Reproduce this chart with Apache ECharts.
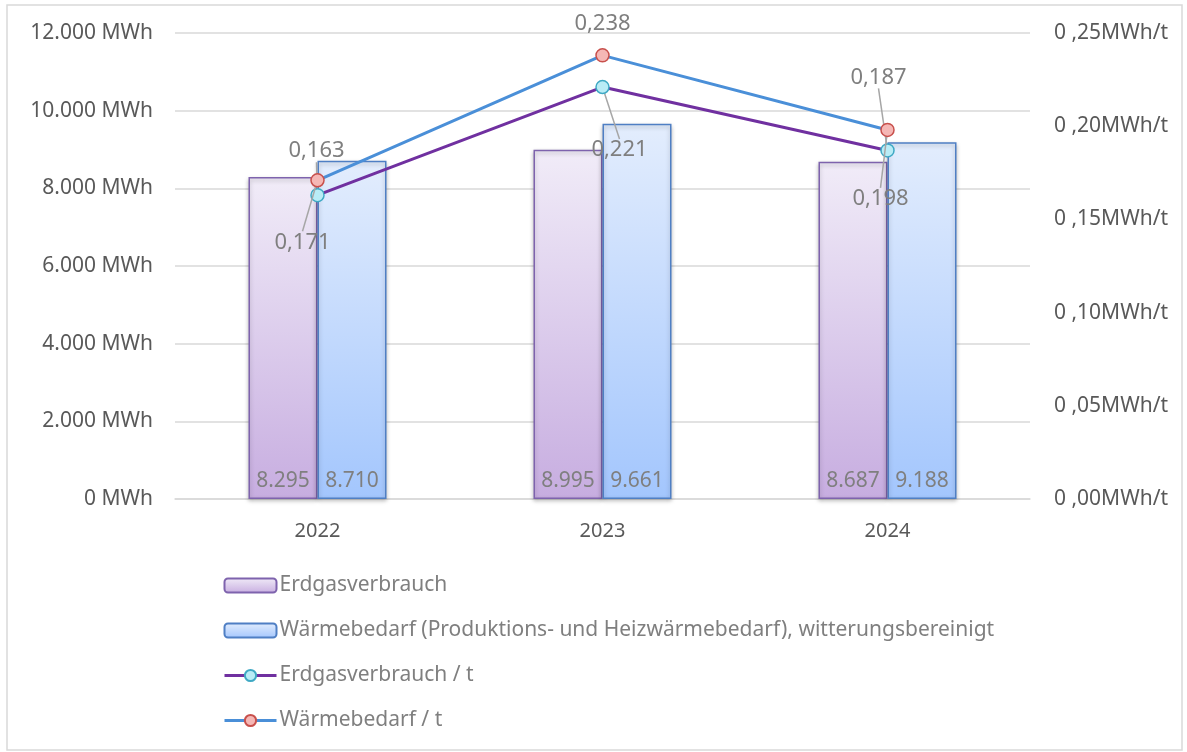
<!DOCTYPE html>
<html><head><meta charset="utf-8">
<script src="https://cdn.jsdelivr.net/npm/echarts@6/dist/echarts.min.js"></script>
<style>html,body{margin:0;padding:0;background:#fff}#c{width:1187px;height:752px}</style>
</head><body><div id="c"></div>
<script>
const categories = ['2022', '2023', '2024'];
const erdgas = [8295, 8995, 8687];
const waerme = [8710, 9661, 9188];
const erdgasPerT = [0.163, 0.221, 0.187];
const waermePerT = [0.171, 0.238, 0.198];
const leftTicks = ['0 MWh','2.000 MWh','4.000 MWh','6.000 MWh','8.000 MWh','10.000 MWh','12.000 MWh'];
const rightTicks = ['0 ,00MWh/t','0 ,05MWh/t','0 ,10MWh/t','0 ,15MWh/t','0 ,20MWh/t','0 ,25MWh/t'];
const names = ['Erdgasverbrauch','Wärmebedarf (Produktions- und Heizwärmebedarf), witterungsbereinigt','Erdgasverbrauch / t','Wärmebedarf / t'];

const FONT = 'Noto Sans';
const erdgasLabelOffsets = [[-1,-44,true],[17,63,true],[-9,-73,true]];
const waermeLabelOffsets = [[-15,62,true],[0,-32,false],[-7,69,true]];

const chart = echarts.init(document.getElementById('c'));
function fmt(v){ return v.toFixed(3).replace('.', ','); }
function thou(v){ return String(v).replace(/\B(?=(\d{3})+(?!\d))/g,'.'); }
const lbl = {show:true, position:'inside', color:'#7f7f7f', fontSize:22, fontFamily:FONT, formatter:p=>fmt(p.value)};
chart.setOption({
  animation:false,
  graphic:[{type:'rect', shape:{x:7,y:5,width:1175,height:745}, style:{fill:'none', stroke:'#d9d9d9', lineWidth:1.5}, silent:true}],
  grid:{left:175, right:157, top:33, bottom:253},
  legend:{
    orient:'vertical', left:218, top:570, itemWidth:52, itemHeight:14, itemGap:24,
    textStyle:{color:'#7f7f7f', fontSize:21, fontFamily:FONT, padding:[0,0,0,-2]},
    data:[
      {name:names[0]},
      {name:names[1]},
      {name:names[2], lineStyle:{width:3}},
      {name:names[3], lineStyle:{width:3}}
    ]
  },
  xAxis:{type:'category', data:categories,
    axisLine:{lineStyle:{color:'#d9d9d9', width:1.5}}, axisTick:{show:false},
    axisLabel:{color:'#595959', fontSize:20, fontFamily:FONT, margin:22}},
  yAxis:[
    {type:'value', min:0, max:12000, interval:2000,
     axisLabel:{color:'#595959', fontSize:21, fontFamily:FONT, margin:22, formatter:(v)=>leftTicks[Math.round(v/2000)]},
     splitLine:{lineStyle:{color:'#d9d9d9', width:1.5}}, axisLine:{show:false}, axisTick:{show:false}},
    {type:'value', min:0, max:0.25, interval:0.05,
     axisLabel:{color:'#595959', fontSize:21, fontFamily:FONT, margin:24, formatter:(v)=>rightTicks[Math.round(v/0.05)]},
     splitLine:{show:false}, axisLine:{show:false}, axisTick:{show:false}}
  ],
  series:[
    {name:names[0], type:'bar', data:erdgas, barWidth:69, barGap:'0%',
     itemStyle:{color:new echarts.graphic.LinearGradient(0,0,0,1,[{offset:0,color:'#f1ecf8'},{offset:1,color:'#c7ade0'}]), borderColor:'#7e63ad', borderWidth:1.5,
       shadowColor:'rgba(0,0,0,0.25)', shadowBlur:4, shadowOffsetY:2},
     label:{show:true, position:'insideBottom', distance:7, color:'#7f7f7f', fontSize:21, fontFamily:FONT, formatter:p=>thou(p.value)}},
    {name:names[1], type:'bar', data:waerme, barWidth:69,
     itemStyle:{color:new echarts.graphic.LinearGradient(0,0,0,1,[{offset:0,color:'#e3edfd'},{offset:1,color:'#a3c6fd'}]), borderColor:'#4f7fc4', borderWidth:1.5,
       shadowColor:'rgba(0,0,0,0.25)', shadowBlur:4, shadowOffsetY:2},
     label:{show:true, position:'insideBottom', distance:7, color:'#7f7f7f', fontSize:21, fontFamily:FONT, formatter:p=>thou(p.value)}},
    {name:names[2], type:'line', yAxisIndex:1, z:5,
     data:erdgasPerT.map((v,i)=>({value:v, labelLine:{show:erdgasLabelOffsets[i][2]}})),
     lineStyle:{color:'#7030a0', width:3}, symbol:'circle', symbolSize:13,
     itemStyle:{color:'#b9ecf6', borderColor:'#3fa9c4', borderWidth:1.5},
     label:lbl, labelLine:{show:true, lineStyle:{color:'#a6a6a6', width:1.5}},
     labelLayout:p=>({dx:erdgasLabelOffsets[p.dataIndex][0], dy:erdgasLabelOffsets[p.dataIndex][1]})},
    {name:names[3], type:'line', yAxisIndex:1, z:6,
     data:waermePerT.map((v,i)=>({value:v, labelLine:{show:waermeLabelOffsets[i][2]}})),
     lineStyle:{color:'#4a8fd8', width:3}, symbol:'circle', symbolSize:13,
     itemStyle:{color:'#f5b7b5', borderColor:'#c8504c', borderWidth:1.5},
     label:lbl, labelLine:{show:true, lineStyle:{color:'#a6a6a6', width:1.5}},
     labelLayout:p=>({dx:waermeLabelOffsets[p.dataIndex][0], dy:waermeLabelOffsets[p.dataIndex][1]})}
  ]
});
</script></body></html>
